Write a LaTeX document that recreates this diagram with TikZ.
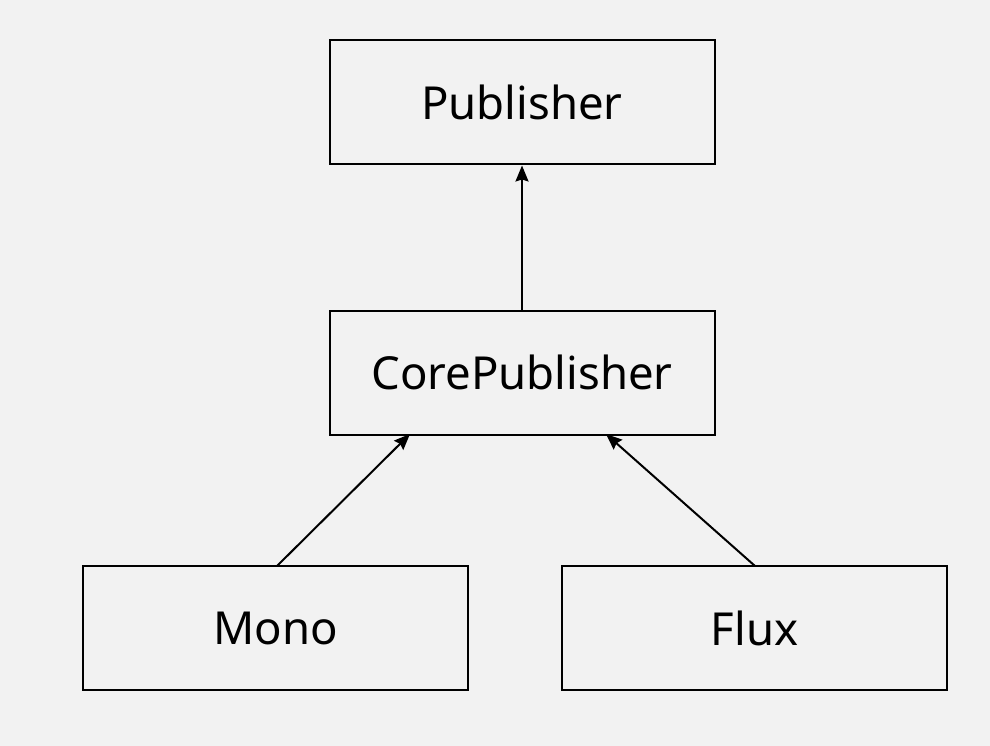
\documentclass[tikz,border=0pt]{standalone}
\usepackage{fontspec}
\setmainfont{Noto Sans}
\usetikzlibrary{arrows.meta}
\definecolor{bg}{HTML}{F2F2F2}
\begin{document}
\begin{tikzpicture}[x=1pt,y=-1pt,
  cls/.style={draw=black,line width=2pt,minimum width=385pt,minimum height=124pt,inner sep=0pt,font=\fontsize{45.5}{50}\selectfont},
  inh/.style={draw=black,line width=2pt,-{Stealth[length=16pt,width=13pt,inset=2pt]}}]
\fill[bg] (0,0) rectangle (990,746);
\useasboundingbox (0,0) rectangle (990,746);
\node[cls] (pub) at (522,102.5) {Publisher};
\node[cls] (core) at (522,372.5) {CorePublisher};
\node[cls] (mono) at (275.5,628) {Mono};
\node[cls] (flux) at (754.5,628) {Flux};
\coordinate (monotop) at (277,566);
\coordinate (fluxtop) at (755,566);
\coordinate (coreL) at (410,434);
\coordinate (coreR) at (606,434);
\draw[inh] (core.north) -- (pub.south);
\draw[inh] (monotop) -- (coreL);
\draw[inh] (fluxtop) -- (coreR);
\end{tikzpicture}
\end{document}
